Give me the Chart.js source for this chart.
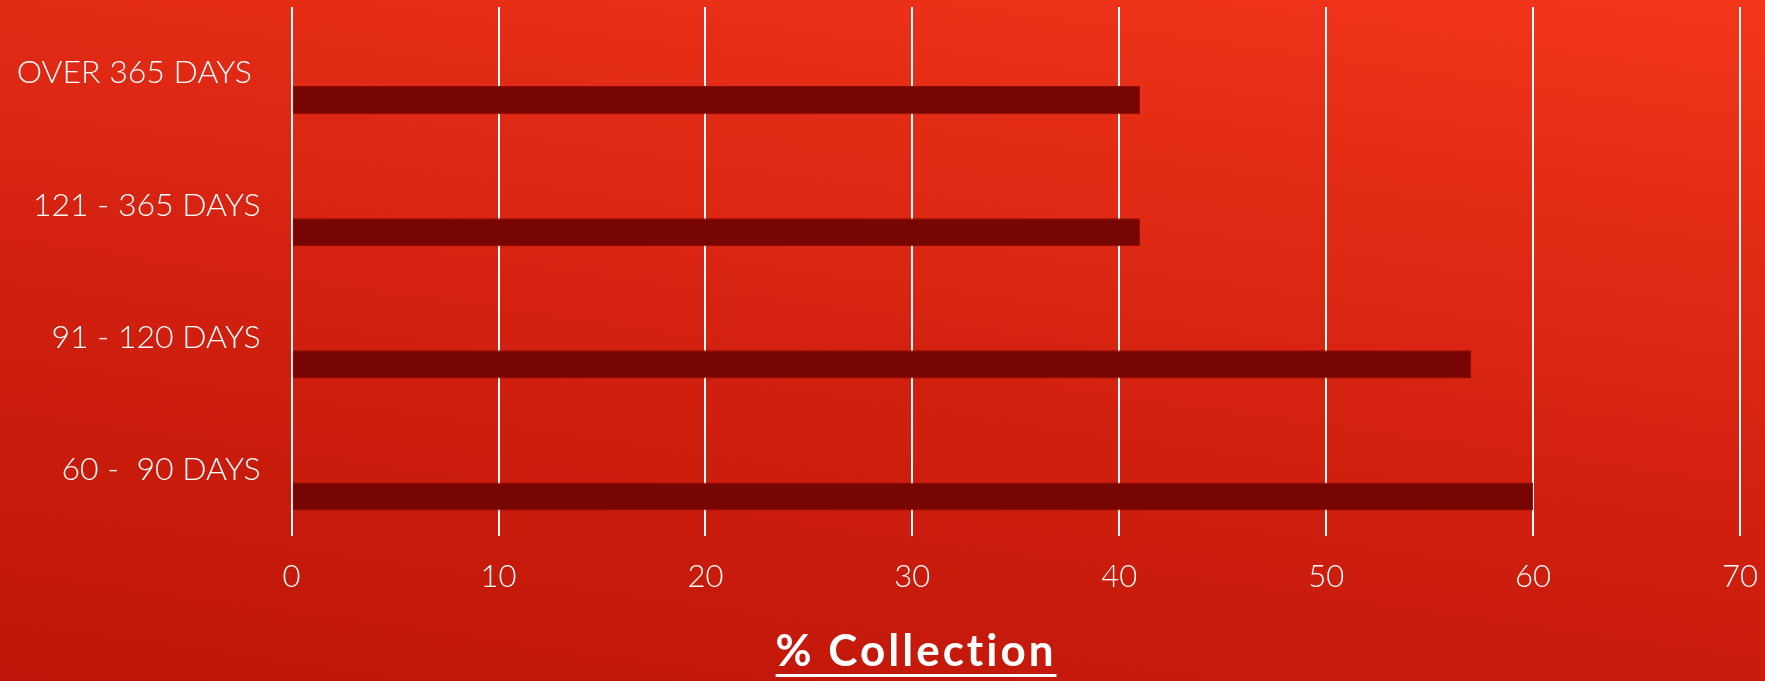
<!DOCTYPE html>
<html>
<head>
<meta charset="utf-8">
<script src="https://cdn.jsdelivr.net/npm/chart.js@4.4.1/dist/chart.umd.min.js"></script>
<style>
  html, body { margin: 0; padding: 0; }
  body {
    width: 1765px; height: 681px; overflow: hidden;
    background: linear-gradient(8deg, #bd1509 0%, #d2200f 45%, #f2361b 100%);
  }
  #wrap { position: relative; width: 1765px; height: 681px; }
</style>
</head>
<body>
<div id="wrap"><canvas id="c"></canvas></div>
<script>
// ---- data ----
const categories = ["OVER 365 DAYS ", "121 - 365 DAYS", "91 - 120 DAYS", "60 -  90 DAYS"];
const collectionPct = [41, 41, 57, 60];
const spacerSeries = [null, null, null, null];
const xTicks = [0, 10, 20, 30, 40, 50, 60, 70];
const axisTitle = "% Collection";

const FONT = "Lato, 'Open Sans', 'DejaVu Sans', sans-serif";

const titlePlugin = {
  id: 'underlinedTitle',
  afterDraw(chart) {
    const ctx = chart.ctx;
    ctx.save();
    ctx.font = "bold 44px " + FONT;
    try { ctx.letterSpacing = "3px"; } catch (e) {}
    ctx.fillStyle = "#ffffff";
    ctx.textAlign = "center";
    ctx.textBaseline = "alphabetic";
    const cx = chart.width * 0.519;
    const baseY = 666;
    ctx.fillText(axisTitle, cx, baseY);
    const w = ctx.measureText(axisTitle).width;
    ctx.fillRect(cx - w / 2, baseY + 8, w, 3);
    ctx.restore();
  }
};

new Chart(document.getElementById('c'), {
  type: 'bar',
  data: {
    labels: categories,
    datasets: [
      { label: 'spacer', data: spacerSeries, backgroundColor: 'rgba(0,0,0,0)' },
      { label: axisTitle, data: collectionPct, backgroundColor: '#770502', borderColor: '#8a0a05', borderWidth: 1, borderSkipped: false }
    ]
  },
  options: {
    indexAxis: 'y',
    responsive: true,
    maintainAspectRatio: false,
    animation: false,
    categoryPercentage: 0.818,
    barPercentage: 0.52,
    layout: { padding: { top: 7, right: 25, left: 0, bottom: 0 } },
    plugins: { legend: { display: false }, tooltip: { enabled: false }, title: { display: false } },
    scales: {
      x: {
        min: 0, max: 70,
        afterBuildTicks(scale) { scale.ticks = xTicks.map(v => ({ value: v })); },
        afterFit(scale) { scale.height = 145.5; scale.paddingLeft = 0; scale.paddingRight = 0; },
        grid: { color: '#ffffff', lineWidth: 2, drawTicks: false, drawOnChartArea: true },
        border: { display: false },
        ticks: { color: '#ffffff', padding: 23, font: { family: FONT, size: 31, weight: 300 } }
      },
      y: {
        afterFit(scale) { scale.width = 291.6; scale.paddingTop = 0; scale.paddingBottom = 0; },
        grid: { display: false, drawTicks: false },
        border: { display: false },
        ticks: { color: '#ffffff', padding: 31, font: { family: FONT, size: 32, weight: 300 } }
      }
    }
  },
  plugins: [titlePlugin]
});
</script>
</body>
</html>
